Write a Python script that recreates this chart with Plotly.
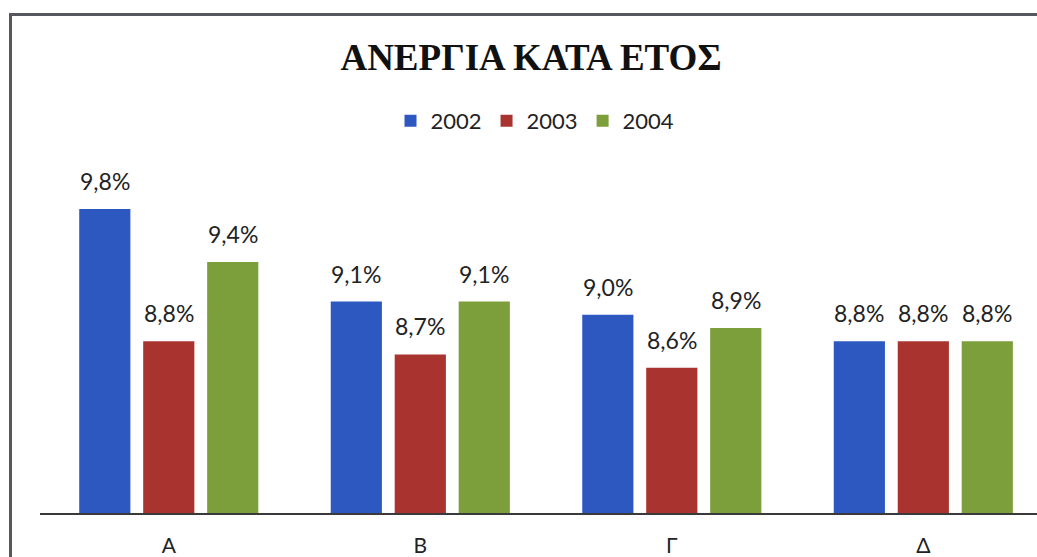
import plotly.graph_objects as go

categories = ["Α", "Β", "Γ", "Δ"]
years = ["2002", "2003", "2004"]
values_2002 = [9.8, 9.1, 9.0, 8.8]
values_2003 = [8.8, 8.7, 8.6, 8.8]
values_2004 = [9.4, 9.1, 8.9, 8.8]
colors = ["#2d58c0", "#a9342f", "#7c9e3b"]

series = [values_2002, values_2003, values_2004]

L, T, B = 40, 180, 44
W, H = 1037, 557
pw, ph = W - L, H - T - B
x_range = [-0.512, 3.452]
bargap, bargroupgap = 0.237, 0.2

fig = go.Figure()
for name, vals, col in zip(years, series, colors):
    fig.add_trace(go.Bar(
        x=categories, y=vals, name=name,
        marker=dict(color=col, line=dict(width=0)),
        cliponaxis=False,
    ))

# value labels above bars (placed via data coords, shifted to each bar slot)
slot_px = pw / (x_range[1] - x_range[0]) * (1 - bargap) / len(series)
annotations = []
for i, vals in enumerate(series):
    for cat, v in zip(categories, vals):
        annotations.append(dict(
            x=cat, y=v, xref="x", yref="y",
            text=f"{v:.1f}%".replace(".", ","),
            showarrow=False, xanchor="center", yanchor="bottom",
            xshift=(i - (len(series) - 1) / 2) * slot_px, yshift=12,
            font=dict(family="Lato", size=23, color="#222222"),
        ))


def px_x(p):
    return (p - L) / pw


def px_y(p):
    return (H - B - p) / ph


fig.update_layout(
    width=W, height=H,
    margin=dict(l=L, r=0, t=T, b=B, autoexpand=False),
    paper_bgcolor="white", plot_bgcolor="white",
    separators=",.",
    barmode="group", bargap=bargap, bargroupgap=bargroupgap,
    title=dict(text="<b>ΑΝΕΡΓΙΑ ΚΑΤΑ ΕΤΟΣ</b>", x=531 / W, xanchor="center",
               y=1 - 57 / H, yanchor="middle",
               font=dict(family="Liberation Serif", size=37, color="#111111")),
    legend=dict(orientation="h", x=px_x(535), xanchor="center", y=px_y(121), yanchor="middle",
                font=dict(family="Lato", size=22, color="#222222"),
                itemwidth=30, tracegroupgap=0),
    showlegend=True,
    annotations=annotations,
    xaxis=dict(range=x_range, showline=True, linecolor="#3a3a3a", linewidth=2,
               showgrid=False, zeroline=False, ticks="", ticklabelstandoff=13,
               automargin=False,
               tickfont=dict(family="Lato", size=21, color="#222222")),
    yaxis=dict(range=[7.5, 10.02], visible=False, showgrid=False, zeroline=False,
               automargin=False),
    shapes=[
        dict(type="line", xref="paper", yref="paper", x0=px_x(9), x1=px_x(1037),
             y0=px_y(14.5), y1=px_y(14.5), line=dict(color="#55585e", width=3)),
        dict(type="line", xref="paper", yref="paper", x0=px_x(10.5), x1=px_x(10.5),
             y0=px_y(13), y1=px_y(557), line=dict(color="#55585e", width=3)),
    ],
)

fig.write_html("out.html", config={"displayModeBar": False},
               post_script="document.body.style.margin='0';document.body.style.overflow='hidden';")
